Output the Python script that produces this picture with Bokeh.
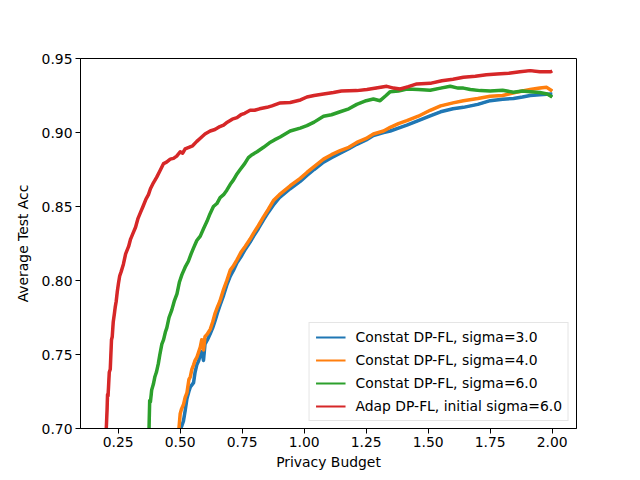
from bokeh.plotting import figure
from bokeh.models import FixedTicker, PrintfTickFormatter, Range1d, Legend, LegendItem
from bokeh.embed import file_html
from bokeh.resources import INLINE

x_ticks = [0.25, 0.50, 0.75, 1.00, 1.25, 1.50, 1.75, 2.00]
y_ticks = [0.70, 0.75, 0.80, 0.85, 0.90, 0.95]

labels = ["Constat DP-FL, sigma=3.0", "Constat DP-FL, sigma=4.0",
          "Constat DP-FL, sigma=6.0", "Adap DP-FL, initial sigma=6.0"]
colors = ["#1f77b4", "#ff7f0e", "#2ca02c", "#d62728"]

blue_x = [0.498, 0.502, 0.507, 0.513, 0.520, 0.527, 0.535, 0.541, 0.554, 0.560, 0.567, 0.575, 0.581, 0.587, 0.594, 0.600, 0.610, 0.621, 0.631, 0.641, 0.650, 0.660, 0.675, 0.688, 0.702, 0.715, 0.729, 0.745, 0.762, 0.782, 0.796, 0.815, 0.836, 0.855, 0.876, 0.900, 0.9435, 0.984, 1.011, 1.040, 1.078, 1.110, 1.145, 1.180, 1.212, 1.250, 1.279, 1.320, 1.347, 1.380, 1.414, 1.460, 1.508, 1.550, 1.600, 1.642, 1.700, 1.750, 1.800, 1.844, 1.880, 1.911, 1.950, 1.992, 2.000]
blue_y = [0.685, 0.700, 0.702, 0.705, 0.712, 0.720, 0.725, 0.728, 0.731, 0.738, 0.743, 0.746, 0.750, 0.752, 0.746, 0.757, 0.760, 0.764, 0.768, 0.773, 0.778, 0.783, 0.790, 0.797, 0.803, 0.807, 0.812, 0.816, 0.821, 0.826, 0.830, 0.835, 0.841, 0.846, 0.851, 0.856, 0.862, 0.867, 0.871, 0.875, 0.880, 0.883, 0.886, 0.889, 0.892, 0.895, 0.898, 0.900, 0.901, 0.903, 0.905, 0.908, 0.9113, 0.914, 0.916, 0.917, 0.919, 0.9215, 0.9225, 0.923, 0.924, 0.925, 0.9255, 0.926, 0.926]

orange_x = [0.493, 0.495, 0.500, 0.505, 0.513, 0.520, 0.527, 0.535, 0.541, 0.547, 0.554, 0.560, 0.567, 0.575, 0.581, 0.587, 0.594, 0.600, 0.610, 0.621, 0.631, 0.641, 0.650, 0.660, 0.675, 0.688, 0.702, 0.715, 0.729, 0.745, 0.762, 0.782, 0.796, 0.815, 0.836, 0.855, 0.876, 0.900, 0.9435, 0.984, 1.011, 1.040, 1.078, 1.110, 1.145, 1.180, 1.212, 1.250, 1.279, 1.320, 1.347, 1.380, 1.414, 1.460, 1.508, 1.550, 1.600, 1.642, 1.700, 1.750, 1.800, 1.850, 1.911, 1.950, 1.978, 2.000]
orange_y = [0.685, 0.700, 0.710, 0.713, 0.716, 0.721, 0.724, 0.733, 0.735, 0.740, 0.743, 0.746, 0.748, 0.752, 0.755, 0.760, 0.753, 0.762, 0.764, 0.767, 0.772, 0.778, 0.782, 0.786, 0.794, 0.800, 0.807, 0.810, 0.814, 0.819, 0.823, 0.828, 0.832, 0.837, 0.843, 0.848, 0.854, 0.858, 0.864, 0.869, 0.873, 0.877, 0.882, 0.885, 0.8877, 0.890, 0.8933, 0.896, 0.899, 0.901, 0.9035, 0.906, 0.908, 0.911, 0.915, 0.918, 0.920, 0.9215, 0.923, 0.9245, 0.925, 0.927, 0.929, 0.930, 0.9305, 0.928]

green_x = [0.372, 0.375, 0.377, 0.380, 0.385, 0.392, 0.398, 0.404, 0.412, 0.418, 0.426, 0.433, 0.440, 0.446, 0.455, 0.466, 0.476, 0.487, 0.497, 0.507, 0.520, 0.533, 0.544, 0.554, 0.567, 0.581, 0.594, 0.608, 0.620, 0.634, 0.648, 0.661, 0.675, 0.688, 0.702, 0.715, 0.729, 0.742, 0.760, 0.775, 0.790, 0.810, 0.836, 0.860, 0.880, 0.903, 0.9435, 0.984, 1.011, 1.040, 1.078, 1.110, 1.145, 1.180, 1.212, 1.250, 1.279, 1.306, 1.330, 1.347, 1.380, 1.414, 1.460, 1.508, 1.550, 1.589, 1.620, 1.642, 1.670, 1.710, 1.750, 1.800, 1.844, 1.880, 1.911, 1.950, 1.980, 2.000]
green_y = [0.680, 0.705, 0.719, 0.718, 0.726, 0.730, 0.735, 0.738, 0.744, 0.750, 0.757, 0.760, 0.765, 0.768, 0.775, 0.780, 0.786, 0.791, 0.799, 0.804, 0.809, 0.813, 0.818, 0.822, 0.827, 0.830, 0.835, 0.840, 0.845, 0.850, 0.852, 0.856, 0.858, 0.861, 0.865, 0.868, 0.872, 0.875, 0.879, 0.883, 0.885, 0.887, 0.890, 0.893, 0.895, 0.897, 0.901, 0.903, 0.9046, 0.907, 0.911, 0.912, 0.914, 0.916, 0.919, 0.9215, 0.9226, 0.9215, 0.925, 0.9276, 0.928, 0.9294, 0.929, 0.9285, 0.930, 0.9312, 0.930, 0.930, 0.929, 0.9283, 0.928, 0.9285, 0.9272, 0.928, 0.9276, 0.927, 0.926, 0.924]

red_x = [0.200, 0.202, 0.205, 0.207, 0.209, 0.211, 0.214, 0.218, 0.221, 0.223, 0.226, 0.230, 0.235, 0.238, 0.242, 0.246, 0.251, 0.256, 0.262, 0.271, 0.280, 0.292, 0.300, 0.310, 0.320, 0.330, 0.340, 0.350, 0.362, 0.372, 0.380, 0.392, 0.406, 0.418, 0.433, 0.445, 0.460, 0.473, 0.486, 0.500, 0.510, 0.520, 0.535, 0.550, 0.567, 0.580, 0.600, 0.621, 0.640, 0.660, 0.675, 0.690, 0.710, 0.729, 0.745, 0.760, 0.782, 0.800, 0.820, 0.850, 0.870, 0.903, 0.9435, 0.985, 1.011, 1.040, 1.078, 1.118, 1.150, 1.212, 1.253, 1.290, 1.333, 1.360, 1.387, 1.420, 1.454, 1.508, 1.555, 1.600, 1.642, 1.690, 1.735, 1.777, 1.825, 1.870, 1.911, 1.950, 1.992, 2.000]
red_y = [0.680, 0.700, 0.712, 0.723, 0.722, 0.728, 0.738, 0.740, 0.752, 0.760, 0.762, 0.772, 0.778, 0.782, 0.786, 0.792, 0.798, 0.803, 0.806, 0.811, 0.818, 0.823, 0.828, 0.832, 0.836, 0.842, 0.846, 0.850, 0.855, 0.858, 0.862, 0.866, 0.870, 0.874, 0.879, 0.880, 0.882, 0.8825, 0.884, 0.887, 0.886, 0.889, 0.890, 0.891, 0.894, 0.896, 0.899, 0.901, 0.902, 0.904, 0.905, 0.907, 0.909, 0.910, 0.912, 0.913, 0.915, 0.915, 0.916, 0.917, 0.918, 0.920, 0.9203, 0.922, 0.924, 0.925, 0.926, 0.927, 0.928, 0.9283, 0.929, 0.930, 0.9312, 0.930, 0.9294, 0.931, 0.9328, 0.9332, 0.935, 0.936, 0.9373, 0.938, 0.939, 0.9395, 0.940, 0.941, 0.9418, 0.941, 0.941, 0.9415]

FONT = "DejaVu Sans"
FS = "13.9px"

p = figure(frame_width=496, frame_height=370, min_border_left=80, min_border_top=58,
           min_border_right=64, min_border_bottom=52,
           output_backend="svg", toolbar_location=None,
           x_range=Range1d(0.098, 2.098), y_range=Range1d(0.70, 0.95))

p.xgrid.visible = False
p.ygrid.visible = False
p.outline_line_color = "black"
p.outline_line_width = 1
p.outline_line_alpha = 1.0

p.xaxis.ticker = FixedTicker(ticks=x_ticks)
p.yaxis.ticker = FixedTicker(ticks=y_ticks)
p.xaxis.formatter = PrintfTickFormatter(format="%.2f")
p.yaxis.formatter = PrintfTickFormatter(format="%.2f")
p.xaxis.axis_label = "Privacy Budget"
p.yaxis.axis_label = "Average Test Acc"
for ax in (p.xaxis, p.yaxis):
    ax.major_label_text_font = FONT
    ax.major_label_text_font_size = FS
    ax.major_label_text_color = "black"
    ax.axis_label_text_font = FONT
    ax.axis_label_text_font_size = FS
    ax.axis_label_text_font_style = "normal"
    ax.axis_label_text_color = "black"
    ax.major_tick_in = 0
    ax.major_tick_out = 5
    ax.minor_tick_line_color = None
    ax.major_tick_line_color = "black"
    ax.axis_line_color = "black"
    ax.major_label_standoff = 3
p.xaxis.axis_label_standoff = 4
p.yaxis.axis_label_standoff = 8

series = [(blue_x, blue_y), (orange_x, orange_y), (green_x, green_y), (red_x, red_y)]
items = []
for (xs, ys), c, lab in zip(series, colors, labels):
    # thin line (hidden under the thick one) used as the legend swatch
    thin = p.line(xs, ys, line_color=c, line_width=2.1)
    p.line(xs, ys, line_color=c, line_width=3.5, line_join="round")
    items.append(LegendItem(label=lab, renderers=[thin]))

legend = Legend(items=items, location="bottom_right")
legend.label_text_font = FONT
legend.label_text_font_size = FS
legend.label_text_color = "black"
legend.glyph_width = 30
legend.glyph_height = 14
legend.label_height = 14
legend.spacing = 7
legend.padding = 6
legend.margin = 7
legend.label_standoff = 10
legend.border_line_color = "#cccccc"
legend.border_line_width = 1
legend.background_fill_alpha = 0.8
p.add_layout(legend)

open("out.html", "w").write(file_html(p, INLINE))
